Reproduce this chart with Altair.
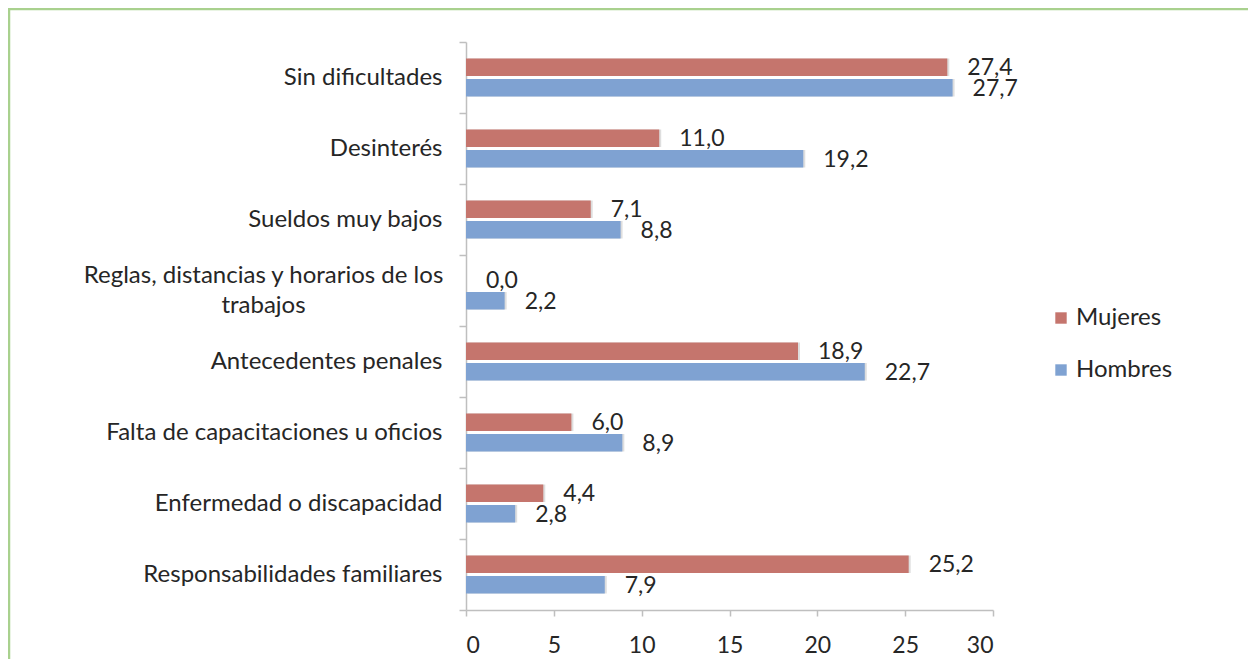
import altair as alt
import pandas as pd

categories = [
    "Sin dificultades",
    "Desinterés",
    "Sueldos muy bajos",
    "Reglas, distancias y horarios de los trabajos",
    "Antecedentes penales",
    "Falta de capacitaciones u oficios",
    "Enfermedad o discapacidad",
    "Responsabilidades familiares",
]
mujeres = [27.4, 11.0, 7.1, 0.0, 18.9, 6.0, 4.4, 25.2]
hombres = [27.7, 19.2, 8.8, 2.2, 22.7, 8.9, 2.8, 7.9]
series = ["Mujeres", "Hombres"]
colors = ["#C5756D", "#7FA2D2"]
x_ticks = [0, 5, 10, 15, 20, 25, 30]

rows = []
for c, m, h in zip(categories, mujeres, hombres):
    rows.append({"categoria": c, "serie": "Mujeres", "valor": m})
    rows.append({"categoria": c, "serie": "Hombres", "valor": h})
df = pd.DataFrame(rows)

FONT = "Lato"
TXT = "#262626"
AXC = "#BFBFBF"
long_cat = categories[3]
test = f"datum.value == '{long_cat}'"
label_expr = (
    f"{test} ? ['Reglas, distancias y horarios de los', 'trabajos'] : datum.label"
)

y_enc = alt.Y(
    "categoria:N",
    sort=categories,
    scale=alt.Scale(paddingInner=0, paddingOuter=0),
    axis=alt.Axis(
        title=None,
        labelExpr=label_expr,
        labelFont=FONT,
        labelFontSize=24,
        labelColor=TXT,
        labelPadding={"condition": {"test": test, "value": 196}, "value": 17},
        labelAlign={"condition": {"test": test, "value": "center"}, "value": "right"},
        labelOffset={"condition": {"test": test, "value": -15}, "value": 0},
        labelLimit=600,
        labelLineHeight=30,
        tickBand="extent",
        tickSize=7,
        tickColor=AXC,
        domainColor=AXC,
        tickWidth=1.5,
        domainWidth=1.5,
    ),
)
yoff = alt.YOffset(
    "serie:N",
    sort=series,
    scale=alt.Scale(domain=series, paddingInner=0.146, paddingOuter=0.805),
)
x_enc = alt.X(
    "valor:Q",
    scale=alt.Scale(domain=[0, 30], nice=False),
    axis=alt.Axis(
        values=x_ticks,
        title=None,
        grid=False,
        labelFont=FONT,
        labelFontSize=23,
        labelColor=TXT,
        labelPadding=18,
        tickSize=6,
        tickColor=AXC,
        domainColor=AXC,
        tickWidth=1.5,
        domainWidth=1.5,
    ),
)

base = alt.Chart(df).transform_calculate(
    etiqueta="replace(format(datum.valor, '.1f'), '.', ',')"
)

shadow = base.mark_bar(color="#000000", opacity=0.13, xOffset=2, yOffset=2.5).encode(
    x=x_enc, y=y_enc, yOffset=yoff
)

bars = base.mark_bar().encode(
    x=x_enc,
    y=y_enc,
    yOffset=yoff,
    color=alt.Color(
        "serie:N",
        sort=series,
        scale=alt.Scale(domain=series, range=colors),
        legend=alt.Legend(
            title=None,
            orient="none",
            legendX=583,
            legendY=264,
            symbolType="square",
            symbolSize=130,
            symbolStrokeWidth=0,
            labelFont=FONT,
            labelFontSize=24,
            labelColor=TXT,
            rowPadding=28,
            labelOffset=3,
        ),
    ),
)

labels = base.mark_text(
    align="left", baseline="middle", dx=20, dy=1, font=FONT, fontSize=23, color=TXT
).encode(x=x_enc, y=y_enc, yOffset=yoff, text="etiqueta:N")

frame = alt.Chart(pd.DataFrame({"f": [0]})).mark_rect(
    fillOpacity=0, stroke="#A9D18E", strokeWidth=2.5
).encode(
    x=alt.value(-457), x2=alt.value(900), y=alt.value(-33), y2=alt.value(800)
)

chart = (
    alt.layer(frame, shadow, bars, labels)
    .properties(
        width=527,
        height=568,
        autosize=alt.AutoSizeParams(type="none"),
        padding={"left": 458, "top": 34, "right": 255, "bottom": 49},
        background="white",
    )
    .configure_view(strokeWidth=0)
)

chart.save("out.html", embed_options={"renderer": "svg", "actions": False})
